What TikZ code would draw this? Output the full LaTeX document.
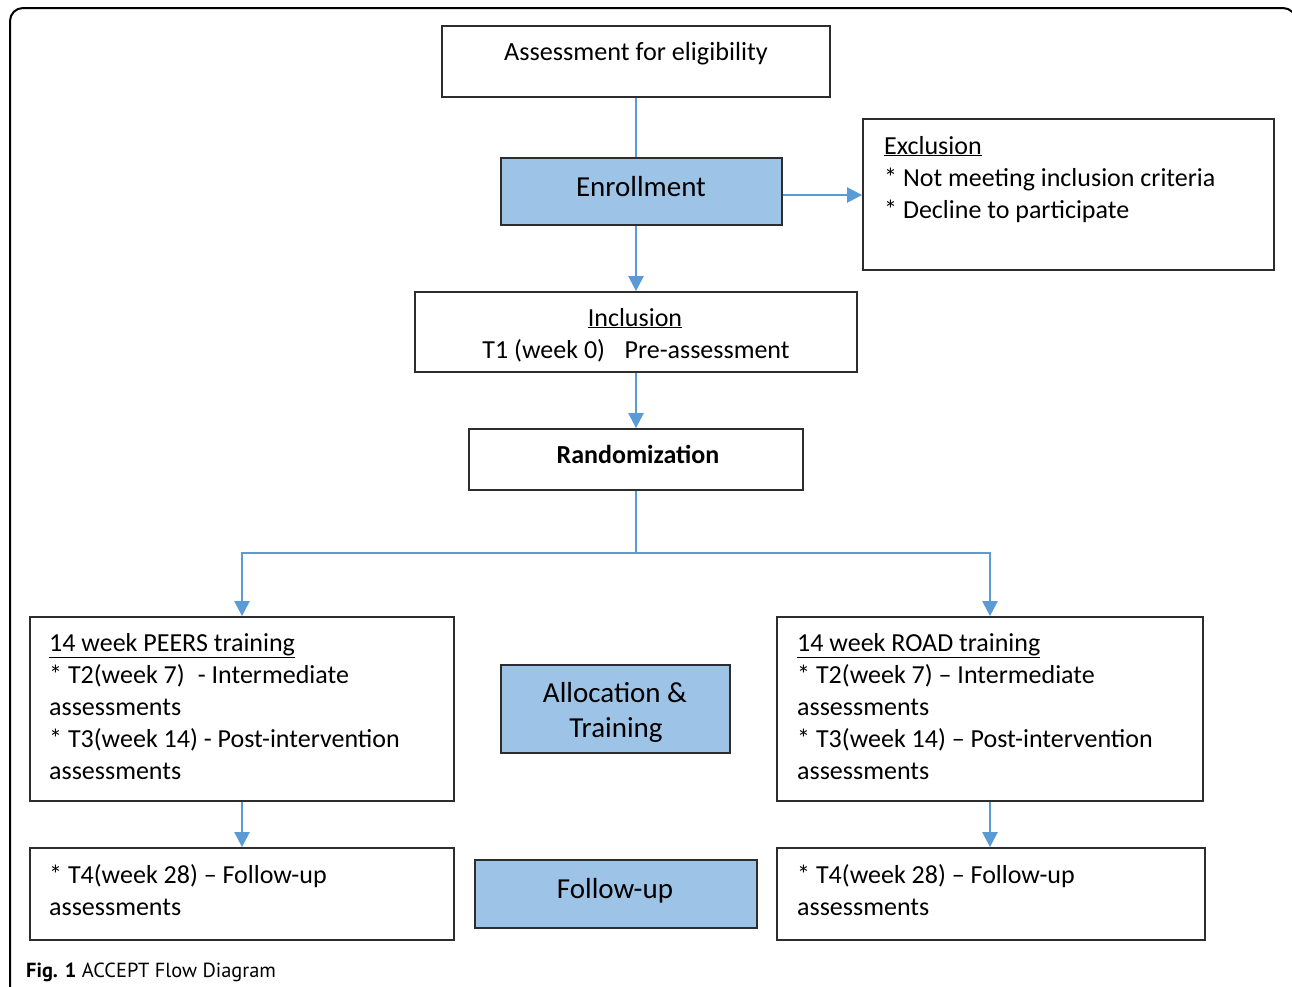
\documentclass[tikz,border=0pt]{standalone}
\usepackage{fontspec}
\setmainfont{Carlito}
\newfontfamily\capfont{PT Sans}
\usetikzlibrary{arrows.meta}
\definecolor{boxblue}{RGB}{157,195,230}
\definecolor{linkblue}{RGB}{91,155,213}
\definecolor{boxline}{RGB}{45,45,45}
\begin{document}
\begin{tikzpicture}[x=1pt,y=-1pt,
  box/.style={draw=boxline, line width=1.8pt, inner sep=0pt, fill=white},
  bluebox/.style={box, fill=boxblue},
  link/.style={draw=linkblue, line width=2.4pt},
  arrowlink/.style={link, -{Triangle[width=15pt,length=15pt]}},
  body/.style={font=\fontsize{26}{30}\selectfont, inner sep=0pt, anchor=base west},
  bodyc/.style={body, anchor=base},
  big/.style={font=\fontsize{29}{32}\selectfont, inner sep=0pt, anchor=base}]
\useasboundingbox (0,0) rectangle (1292,986);
\begin{scope}
\clip (0,0) rectangle (1292,986);
\draw[line width=2pt, rounded corners=13pt] (10,1010) -- (10,8) -- (1296,8) -- (1296,1010);
\end{scope}

% boxes
\node[box, minimum width=388pt, minimum height=71pt] (assess) at (636,61.5) {};
\node[bluebox, minimum width=281pt, minimum height=67pt] (enroll) at (641.5,191.5) {};
\node[box, minimum width=411pt, minimum height=151pt] (excl) at (1068.5,194.5) {};
\node[box, minimum width=442pt, minimum height=80pt] (incl) at (636,332) {};
\node[box, minimum width=334pt, minimum height=61pt] (rand) at (636,459.5) {};
\node[box, minimum width=424pt, minimum height=184pt] (peers) at (242,709) {};
\node[bluebox, minimum width=229pt, minimum height=88pt] (alloc) at (615.5,709) {};
\node[box, minimum width=426pt, minimum height=184pt] (road) at (990,709) {};
\node[box, minimum width=424pt, minimum height=92pt] (fupL) at (242,894) {};
\node[bluebox, minimum width=282pt, minimum height=68pt] (follow) at (616,894) {};
\node[box, minimum width=428pt, minimum height=92pt] (fupR) at (991,894) {};

% texts
\node[bodyc, font=\fontsize{26.2}{30}\selectfont] (t-assess) at (636,60) {Assessment for eligibility};
\node[big] (t-enroll) at (641,196) {Enrollment};
\node[body] (t-ex1) at (884,154) {\underline{Exclusion}};
\node[body] (t-ex2) at (884,186) {* Not meeting inclusion criteria};
\node[body] (t-ex3) at (884,218) {* Decline to participate};
\node[bodyc] (t-in1) at (635,326) {\underline{Inclusion}};
\node[bodyc] (t-in2) at (636,358) {T1 (week 0)\hspace{0.75em}Pre-assessment};
\node[bodyc, font=\bfseries\fontsize{26}{30}\selectfont] (t-rand) at (638,463) {Randomization};
\node[body] (t-p1) at (49,651) {\underline{14 week PEERS training}};
\node[body] (t-p2) at (49,683) {* T2(week 7)\hspace{0.5em}- Intermediate};
\node[body] (t-p3) at (49,715) {assessments};
\node[body] (t-p4) at (49,747) {* T3(week 14) - Post-intervention};
\node[body] (t-p5) at (49,779) {assessments};
\node[big] (t-al1) at (615,702) {Allocation \&};
\node[big] (t-al2) at (616,737) {Training};
\node[body] (t-r1) at (797,651) {\underline{14 week ROAD training}};
\node[body] (t-r2) at (797,683) {* T2(week 7) – Intermediate};
\node[body] (t-r3) at (797,715) {assessments};
\node[body] (t-r4) at (797,747) {* T3(week 14) – Post-intervention};
\node[body] (t-r5) at (797,779) {assessments};
\node[body] (t-fl1) at (49,883) {* T4(week 28) – Follow-up};
\node[body] (t-fl2) at (49,915) {assessments};
\node[big] (t-fu) at (615,898) {Follow-up};
\node[body] (t-fr1) at (797,883) {* T4(week 28) – Follow-up};
\node[body] (t-fr2) at (797,915) {assessments};

% caption
\node[inner sep=0pt, anchor=base west, font=\capfont\fontsize{20.4}{24}\selectfont] (cap) at (26,977) {\textbf{Fig. 1} ACCEPT Flow Diagram};

% connectors
\coordinate (eout) at ([yshift=-3.5pt]enroll.east);
\coordinate (split) at (636,553);
\draw[link] (assess.south) -- (assess.south |- enroll.north);
\draw[arrowlink] (assess.south |- enroll.south) -- (incl.north);
\draw[arrowlink] (eout) -- (excl.west |- eout);
\draw[arrowlink] (incl.south) -- (rand.north);
\draw[link] (rand.south) -- (split);
\draw[arrowlink] (split) -| (peers.north);
\draw[arrowlink] (split) -| (road.north);
\draw[arrowlink] (peers.south) -- (fupL.north);
\draw[arrowlink] (road.south) -- (road.south |- fupR.north);
\end{tikzpicture}
\end{document}
